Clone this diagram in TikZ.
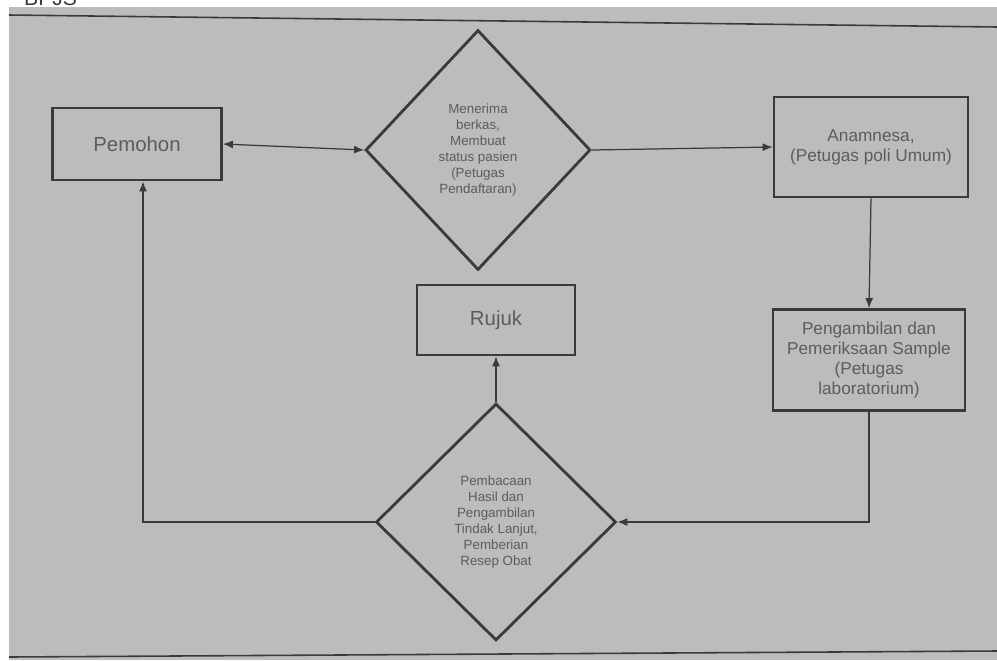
\documentclass[tikz,border=0pt]{standalone}
\usepackage{fontspec}
\setmainfont{Liberation Sans}
\usetikzlibrary{shapes.geometric,arrows.meta}
\definecolor{paper}{RGB}{186,189,186}
\definecolor{ink}{RGB}{58,58,58}
\definecolor{txt}{RGB}{92,92,92}
\tikzset{
  box/.style={draw=ink,line width=1.6pt,rectangle,align=center,text=txt,
              font=\fontsize{9.8}{11.4}\selectfont,inner sep=2pt},
  bigbox/.style={box,font=\fontsize{11.6}{13}\selectfont},
  keputusan/.style={draw=ink,line width=1.6pt,diamond,inner sep=0pt,align=center,
              text=txt,font=\fontsize{7.6}{9.1}\selectfont},
  link/.style={draw=ink,line width=0.7pt,arrows={-{Latex[length=2mm,width=1.6mm]}}},
}
\begin{document}
\begin{tikzpicture}[x=0.02cm,y=-0.02cm]
\useasboundingbox (0,0) rectangle (997,660);
% paper
\fill[white] (0,0) rectangle (997,660);
\fill[paper] (9,7) rectangle (997,660);
\begin{scope}
\clip (0,0) rectangle (997,660);
\node[anchor=base west,text=ink,font=\fontsize{12}{12}\selectfont] (kop) at (18,5) {BPJS};
\end{scope}
\draw[ink,line width=0.9pt] (9,15) -- (997,27);
\draw[ink,line width=0.9pt] (9,657) -- (997,651);

% boxes
\node[bigbox,minimum width=3.38cm,minimum height=1.44cm] (pemohon) at (137,144) {Pemohon};
\node[keputusan,minimum width=4.5cm,minimum height=4.8cm] (terima) at (478,150)
  {Menerima\\berkas,\\Membuat\\status pasien\\(Petugas\\Pendaftaran)};
\node[box,minimum width=3.88cm,minimum height=2cm] (anamnesa) at (871,147)
  {Anamnesa,\\(Petugas poli Umum)};
\node[box,minimum width=3.84cm,minimum height=2.02cm] (sample) at (869,360)
  {Pengambilan dan\\Pemeriksaan Sample\\(Petugas\\laboratorium)};
\node[bigbox,minimum width=3.16cm,minimum height=1.4cm] (rujuk) at (496,320) {Rujuk};
\node[keputusan,minimum width=4.8cm,minimum height=4.74cm] (baca) at (496,522)
  {Pembacaan\\Hasil dan\\Pengambilan\\Tindak Lanjut,\\Pemberian\\Resep Obat};

% arrows
\draw[link,{Latex[length=2mm,width=1.6mm]}-{Latex[length=2mm,width=1.6mm]}] (pemohon.east) -- (terima.west);
\draw[link] (terima.east) -- (anamnesa.west);
\draw[link] (anamnesa.south) -- (sample.south |- sample.north);
\draw[link] (sample.south) |- (baca.east);
\draw[link] (baca.north) -- (rujuk.south);
\draw[link] (baca.west) -| ([xshift=0.12cm]pemohon.south);
\end{tikzpicture}
\end{document}
